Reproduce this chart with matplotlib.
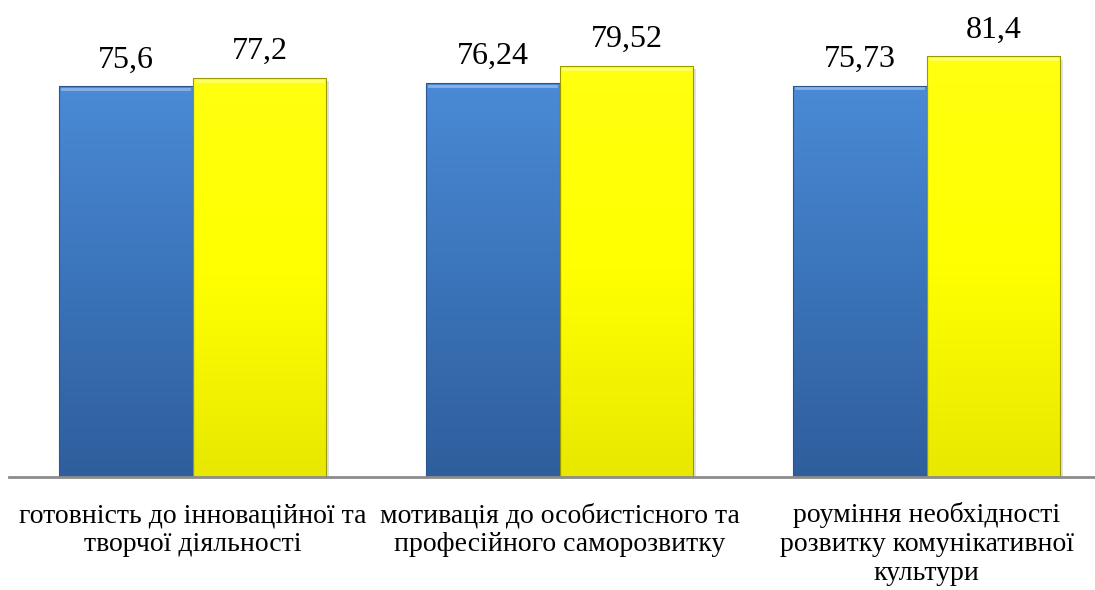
import numpy as np
import matplotlib.pyplot as plt
from matplotlib.colors import LinearSegmentedColormap

categories = ['готовність до інноваційної та\nтворчої діяльності',
              'мотивація до особистісного та\nпрофесійного саморозвитку',
              'роуміння необхідності\nрозвитку комунікативної\nкультури']
series_a = [75.6, 76.24, 75.73]
series_b = [77.2, 79.52, 81.4]
labels_a = ['75,6', '76,24', '75,73']
labels_b = ['77,2', '79,52', '81,4']

plt.rcParams['font.family'] = ['Liberation Serif', 'DejaVu Serif']

W, H = 1095, 590
fig = plt.figure(figsize=(W / 100, H / 100), dpi=100)
# axes placed in pixel terms: left 9, right 1095, bottom 477, top 12
ax = fig.add_axes([9 / W, (H - 477) / H, (W - 9) / W, (477 - 12) / H])
px = 90 / 465  # data units per pixel on y

x = np.arange(len(categories))
width = 0.365

blue_cmap = LinearSegmentedColormap.from_list('b', ['#2f5e9c', '#3b74ba', '#4a8ad6'])
yellow_cmap = LinearSegmentedColormap.from_list('y', ['#e8e800', '#ffff00', '#ffff10'])

def gradient_bars(xs, vals, cmap, edge):
    bars = ax.bar(xs, vals, width, color='none', edgecolor=edge, linewidth=0.8, zorder=3)
    grad = np.linspace(0, 1, 256).reshape(-1, 1)
    for b in bars:
        x0, y0 = b.get_x(), b.get_y()
        w, h = b.get_width(), b.get_height()
        # soft shadow
        ax.bar(x0 + w / 2 + 0.008, h, w, bottom=-0.6, color='#000000', alpha=0.12, zorder=1)
        im = ax.imshow(grad, extent=[x0, x0 + w, y0, y0 + h], origin='lower', cmap=cmap,
                       aspect='auto', zorder=2, interpolation='bicubic')
        im.set_clip_path(b)
        # bevel highlight at top
        ax.plot([x0 + 0.01, x0 + w - 0.01], [h - 0.5, h - 0.5], color='white', alpha=0.35, lw=2, zorder=4)
    return bars

gradient_bars(x - width / 2, series_a, blue_cmap, '#2a558e')
gradient_bars(x + width / 2, series_b, yellow_cmap, '#9a9a00')

for xi, v, t in zip(x - width / 2, series_a, labels_a):
    ax.text(xi, v + 19 * px, t, ha='center', va='baseline', fontsize=23)
for xi, v, t in zip(x + width / 2, series_b, labels_b):
    ax.text(xi, v + 19 * px, t, ha='center', va='baseline', fontsize=23)

# category labels, one text per line, baselines 29 px apart
for xi, cat in zip(x, categories):
    for k, line in enumerate(cat.split('\n')):
        ax.text(xi, -(45 + 29 * k) * px, line, ha='center', va='baseline',
                fontsize=20, clip_on=False)

ax.set_xlim(-0.5, (W - 192.5) / 367)
ax.set_ylim(0, 90)
ax.set_xticks([])
ax.set_yticks([])
for s in ['top', 'right', 'left']:
    ax.spines[s].set_visible(False)
ax.spines['bottom'].set_color('#8c8c8c')
ax.spines['bottom'].set_linewidth(2)
ax.spines['bottom'].set_zorder(5)

fig.savefig('out.png', dpi=100)
